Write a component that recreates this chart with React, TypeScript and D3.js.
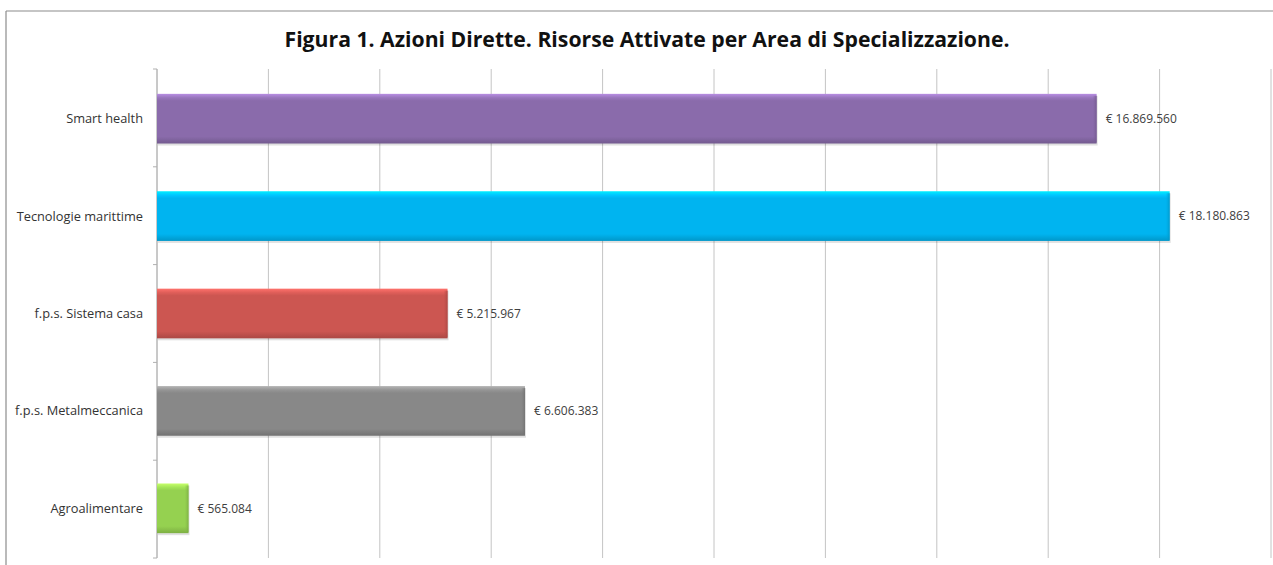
import React from "react";
import * as d3 from "d3";

const categories = [
  "Smart health",
  "Tecnologie marittime",
  "f.p.s. Sistema casa",
  "f.p.s. Metalmeccanica",
  "Agroalimentare",
];
const values = [16869560, 18180863, 5215967, 6606383, 565084];
const valueLabels = ["€ 16.869.560", "€ 18.180.863", "€ 5.215.967", "€ 6.606.383", "€ 565.084"];
const colors = ["#8a6bab", "#00b4f0", "#cc5651", "#888888", "#95d150"];
const xTicks = [0, 2e6, 4e6, 6e6, 8e6, 10e6, 12e6, 14e6, 16e6, 18e6, 20e6];
const title = "Figura 1. Azioni Dirette. Risorse Attivate per Area di Specializzazione.";

const W = 1273;
const H = 565;
const plot = { left: 157, right: 1271, top: 69, bottom: 558 };

export default function App() {
  const x = d3.scaleLinear().domain([0, 20e6]).range([plot.left, plot.right]);
  const y = d3
    .scaleBand<string>()
    .domain(categories)
    .range([plot.top, plot.bottom])
    .paddingInner(0.49)
    .paddingOuter(0.255);
  const boundaries = d3.range(categories.length + 1).map(
    (i) => plot.top + (i * (plot.bottom - plot.top)) / categories.length
  );
  const font = "Open Sans, Noto Sans, sans-serif";

  return (
    <svg
      width={W}
      height={H}
      style={{ position: "absolute", left: 0, top: 0, background: "#fff" }}
    >
      <defs>
        {colors.map((c, i) => {
          const col = d3.color(c)!;
          return (
            <linearGradient key={i} id={`g${i}`} x1="0" y1="0" x2="0" y2="1">
              <stop offset="0" stopColor={col.brighter(0.8).toString()} />
              <stop offset="0.08" stopColor={col.brighter(0.25).toString()} />
              <stop offset="0.14" stopColor={c} />
              <stop offset="0.86" stopColor={c} />
              <stop offset="1" stopColor={col.darker(0.5).toString()} />
            </linearGradient>
          );
        })}
        {colors.map((c, i) => {
          const col = d3.color(c)!;
          return (
            <linearGradient key={"e" + i} id={`e${i}`} x1="0" y1="0" x2="1" y2="0">
              <stop offset="0" stopColor={col.darker(0.2).toString()} stopOpacity={0} />
              <stop offset="1" stopColor={col.darker(0.6).toString()} stopOpacity={0.8} />
            </linearGradient>
          );
        })}
      </defs>
      {/* frame */}
      <line x1={6} y1={11} x2={W} y2={11} stroke="#8c8c8c" strokeWidth={1.2} />
      <line x1={6} y1={11} x2={6} y2={H} stroke="#8c8c8c" strokeWidth={1.2} />

      {/* title */}
      <text
        x={647}
        y={47}
        textAnchor="middle"
        fontFamily={font}
        fontWeight="bold"
        fontSize={21}
        fill="#111"
        textLength={725}
        lengthAdjust="spacingAndGlyphs"
      >
        {title}
      </text>

      {/* gridlines */}
      {xTicks.map((t) => (
        <line
          key={t}
          x1={x(t)}
          x2={x(t)}
          y1={plot.top}
          y2={plot.bottom}
          stroke="#c4c4c4"
          strokeWidth={1}
        />
      ))}
      {/* axis */}
      <line x1={plot.left} x2={plot.left} y1={plot.top} y2={plot.bottom} stroke="#b0b0b0" />
      {boundaries.map((b, i) => (
        <line key={i} x1={plot.left - 4} x2={plot.left} y1={b} y2={b} stroke="#b0b0b0" />
      ))}

      {/* bars */}
      {categories.map((c, i) => {
        const y0 = y(c)!;
        const bw = y.bandwidth();
        const x1 = x(values[i]);
        return (
          <g key={c}>
            <rect
              x={x(0) + 1}
              y={y0 + 2}
              width={x1 - x(0)}
              height={bw}
              fill="#000"
              opacity={0.12}
            />
            <rect x={x(0)} y={y0} width={x1 - x(0)} height={bw} fill={`url(#g${i})`} />
            <rect x={x1 - 4} y={y0 + 2} width={4} height={bw - 3} fill={`url(#e${i})`} />
            <text
              x={plot.left - 14}
              y={y0 + bw / 2}
              dy="0.35em"
              textAnchor="end"
              fontFamily={font}
              fontSize={12.8}
              fill="#333"
            >
              {c}
            </text>
            <text
              x={x1 + 9}
              y={y0 + bw / 2}
              dy="0.35em"
              fontFamily={font}
              fontSize={12}
              fill="#404040"
            >
              {valueLabels[i]}
            </text>
          </g>
        );
      })}
    </svg>
  );
}
